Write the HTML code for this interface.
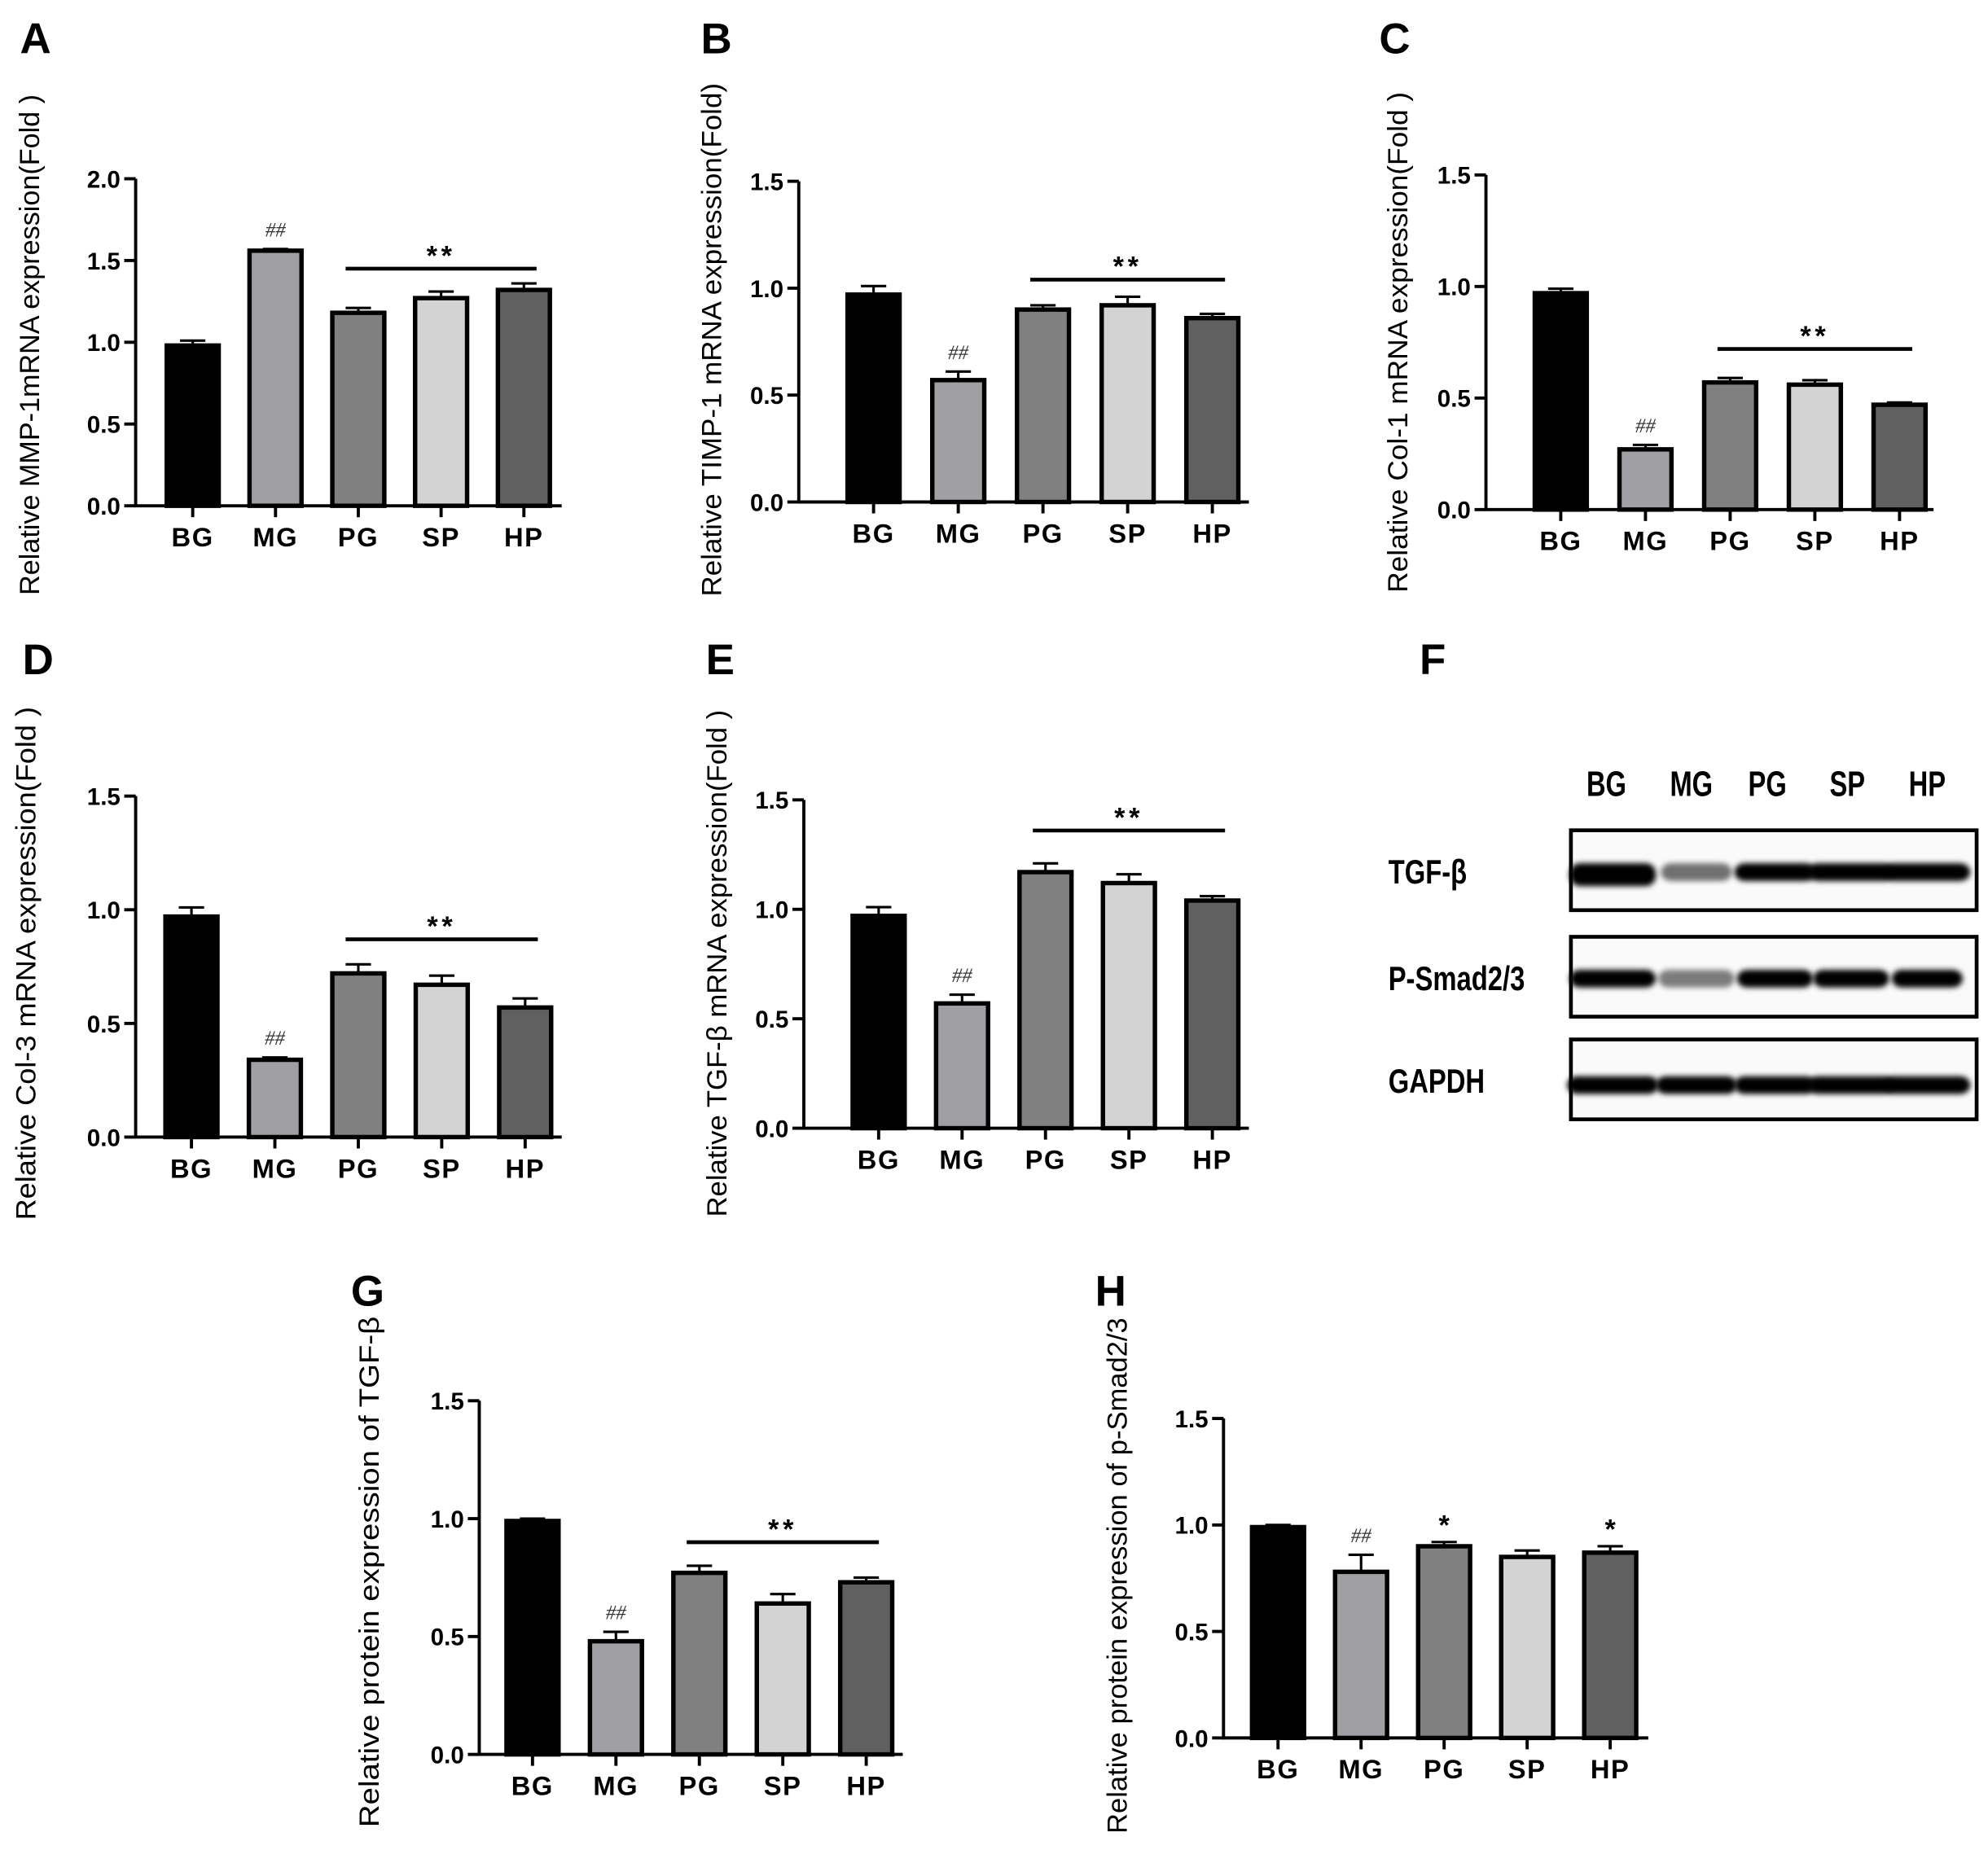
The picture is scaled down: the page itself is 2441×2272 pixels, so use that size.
<!DOCTYPE html>
<html><head><meta charset="utf-8"><style>html,body{margin:0;padding:0;background:#fff;overflow:hidden}svg{display:block}</style></head>
<body>
<svg id="fig" xmlns="http://www.w3.org/2000/svg" width="2441" height="2272" viewBox="0 0 2441 2272">
<defs><filter id="blur" x="-20%" y="-50%" width="140%" height="200%"><feGaussianBlur stdDeviation="2.2"/></filter></defs>
<g id="root" transform="scale(1.5568,1.5568)"></g>
</svg>
<script>
const categories = ["BG","MG","PG","SP","HP"];
const valuesA = [0.98,1.56,1.18,1.27,1.32]; const errA = [0.03,0.01,0.03,0.04,0.04];
const valuesB = [0.97,0.57,0.90,0.92,0.86]; const errB = [0.04,0.04,0.02,0.04,0.02];
const valuesC = [0.97,0.27,0.57,0.56,0.47]; const errC = [0.02,0.02,0.02,0.02,0.01];
const valuesD = [0.97,0.34,0.72,0.67,0.57]; const errD = [0.04,0.01,0.04,0.04,0.04];
const valuesE = [0.97,0.57,1.17,1.12,1.04]; const errE = [0.04,0.04,0.04,0.04,0.02];
const valuesG = [0.99,0.48,0.77,0.64,0.73]; const errG = [0.01,0.04,0.03,0.04,0.02];
const valuesH = [0.99,0.78,0.90,0.85,0.87]; const errH = [0.01,0.08,0.02,0.03,0.03];
const ticks2 = [0,0.5,1.0,1.5,2.0];
const ticks15 = [0,0.5,1.0,1.5];
const colors = ["#000000","#a0a0a4","#808080","#d3d3d3","#606060"];

const NS="http://www.w3.org/2000/svg";
const root=document.getElementById('root');
function mk(tag,attrs,parent){const e=document.createElementNS(NS,tag);for(const k in attrs)e.setAttribute(k,attrs[k]);(parent||root).appendChild(e);return e;}

function panel(p){
  const g=mk('g',{});
  
  
  const ymax=p.ticks[p.ticks.length-1];
  const ys=v=>p.y0-(p.y0-p.yTop)*v/ymax;
  const xs=i=>p.bx0+p.bdx*i;
  const L=mk('text',{x:p.lx,y:p.ly,'font-family':'Liberation Sans, sans-serif','font-weight':'bold','font-size':34,'text-anchor':'middle'},g);
  L.textContent=p.id;
  
  
  const T=mk('text',{x:0,y:0,transform:`translate(${p.tx},${p.tc}) rotate(-90)`,'font-family':'Liberation Sans, sans-serif','font-size':22,'text-anchor':'middle','dominant-baseline':'middle',textLength:p.tl,lengthAdjust:'spacingAndGlyphs'},g);
  T.textContent=p.title;
  
  
  p.vals.forEach((v,i)=>{
    const bw=41;const cx=xs(i);
    const r=mk('rect',{x:cx-bw/2,y:ys(v),width:bw,height:p.y0-ys(v),fill:colors[i],stroke:'#000','stroke-width':3.5},g);
    
    
    const e=p.errs[i];
    const eb=mk('path',{d:`M${cx} ${ys(v)} V${ys(v+e)} M${cx-10} ${ys(v+e)} H${cx+10}`,stroke:'#000','stroke-width':2,fill:'none'},g);
    
    
    const c=mk('text',{x:cx,y:p.y0+32,'font-family':'Liberation Sans, sans-serif','font-weight':'bold','font-size':21,'text-anchor':'middle','letter-spacing':1},g);
    c.textContent=categories[i];
    
    
    mk('line',{x1:cx,x2:cx,y1:p.y0,y2:p.y0+9,stroke:'#000','stroke-width':2.5},g);
    if(i===1){const h=mk('text',{x:cx,y:ys(v+e)-10,'font-family':'Liberation Serif, serif','font-style':'italic','font-size':16,'text-anchor':'middle',fill:'#333'},g);h.textContent='##';
      
      }
    if(p.single&&p.single.includes(i)){const s=mk('text',{x:cx,y:ys(v+e)-6,'font-family':'Liberation Sans, sans-serif','font-weight':'bold','font-size':22,'text-anchor':'middle'},g);s.textContent='*';
      
      }
  });
  const ax=mk('path',{d:`M${p.x0} ${p.yTop} V${p.y0} H${p.xEnd}`,stroke:'#000','stroke-width':2.5,fill:'none'},g);
  
  
  p.ticks.forEach(t=>{
    mk('line',{x1:p.x0-9,x2:p.x0,y1:ys(t),y2:ys(t),stroke:'#000','stroke-width':2.5},g);
    const tl=mk('text',{x:p.x0-12,y:ys(t)+7,'font-family':'Liberation Sans, sans-serif','font-weight':'bold','font-size':19,'text-anchor':'end'},g);
    tl.textContent=t.toFixed(1);
    
    
  });
  if(p.line!==undefined){
    const ln=mk('line',{x1:xs(2)-10,x2:xs(4)+10,y1:ys(p.line),y2:ys(p.line),stroke:'#000','stroke-width':3},g);
    
    
    const st=mk('text',{x:xs(3),y:ys(p.line)-3,'font-family':'Liberation Sans, sans-serif','font-weight':'bold','font-size':22,'text-anchor':'middle','letter-spacing':3},g);
    st.textContent='**';
    
    
  }
}

panel({id:'A',x0:107,xEnd:443,bx0:152,bdx:65.3,y0:399,yTop:141,ticks:ticks2,vals:valuesA,errs:errA,line:1.45,lx:28,ly:42,tx:25,tc:272,tl:395,title:'Relative MMP-1mRNA expression(Fold )'});
panel({id:'B',x0:630,xEnd:985,bx0:689,bdx:66.8,y0:396,yTop:143,ticks:ticks15,vals:valuesB,errs:errB,line:1.04,lx:565,ly:42,tx:563,tc:268,tl:405,title:'Relative TIMP-1 mRNA expression(Fold)'});
panel({id:'C',x0:1172,xEnd:1525,bx0:1231,bdx:66.8,y0:402,yTop:138,ticks:ticks15,vals:valuesC,errs:errC,line:0.72,lx:1100,ly:42,tx:1104,tc:270,tl:395,title:'Relative Col-1 mRNA expression(Fold )'});
panel({id:'D',x0:107,xEnd:443,bx0:151,bdx:65.8,y0:897,yTop:628,ticks:ticks15,vals:valuesD,errs:errD,line:0.87,lx:30,ly:532,tx:22,tc:760,tl:405,title:'Relative Col-3 mRNA expression(Fold )'});
panel({id:'E',x0:634,xEnd:985,bx0:693,bdx:65.8,y0:890,yTop:631,ticks:ticks15,vals:valuesE,errs:errE,line:1.36,lx:568,ly:532,tx:567,tc:760,tl:400,title:'Relative TGF-β mRNA expression(Fold )'});
panel({id:'G',x0:378,xEnd:712,bx0:420,bdx:65.8,y0:1384,yTop:1105,ticks:ticks15,vals:valuesG,errs:errG,line:0.90,lx:290,ly:1030,tx:293,tc:1240,tl:403,title:'Relative protein expression of TGF-β'});
panel({id:'H',x0:965,xEnd:1300,bx0:1008,bdx:65.5,y0:1371,yTop:1119,ticks:ticks15,vals:valuesH,errs:errH,single:[2,4],lx:876,ly:1030,tx:883,tc:1243,tl:407,title:'Relative protein expression of p-Smad2/3'});

const blotLanes=["BG","MG","PG","SP","HP"];
const blotRows=["TGF-β","P-Smad2/3","GAPDH"];
const bandW=[[34,28,32,34,34],[34,30,30,30,28],[36,32,32,34,34]];
const bandOp=[[1,0.55,1,1,1],[1,0.5,1,1,1],[1,1,1,1,1]];
const fg=mk('g',{});


const FL=mk('text',{x:1130,y:532,'font-family':'Liberation Sans, sans-serif','font-weight':'bold','font-size':34,'text-anchor':'middle'},fg);FL.textContent='F';


const laneX=[1267,1334,1394,1457,1520];
const bandX=[1272,1338,1400,1460,1520];
blotLanes.forEach((l,i)=>{const t=mk('text',{x:laneX[i],y:628,'font-family':'Liberation Sans, sans-serif','font-weight':'bold','font-size':28,'text-anchor':'middle'},fg);
  t.setAttribute('transform',`translate(${laneX[i]} 0) scale(0.75 1) translate(${-laneX[i]} 0)`);
  t.textContent=l;
  
  });
const boxY=[655,739,820];const boxH=63;
blotRows.forEach((r,j)=>{
  const b=mk('rect',{x:1239,y:boxY[j],width:320,height:boxH,fill:'#fafafa',stroke:'#000','stroke-width':3},fg);
  
  
  const t=mk('text',{x:1095,y:boxY[j]+42,'font-family':'Liberation Sans, sans-serif','font-weight':'bold','font-size':27,transform:`translate(1095 0) scale(0.78 1) translate(-1095 0)`},fg);
  t.textContent=r;
  
  
  bandX.forEach((x,i)=>{const bd=mk('rect',{x:x-bandW[j][i],y:boxY[j]+(j===2?29:26),width:bandW[j][i]*2,height:j===0&&i===0?18:14,rx:8,fill:'#000',opacity:bandOp[j][i],filter:'url(#blur)'},fg);
    
    });
});
</script>
</body></html>
